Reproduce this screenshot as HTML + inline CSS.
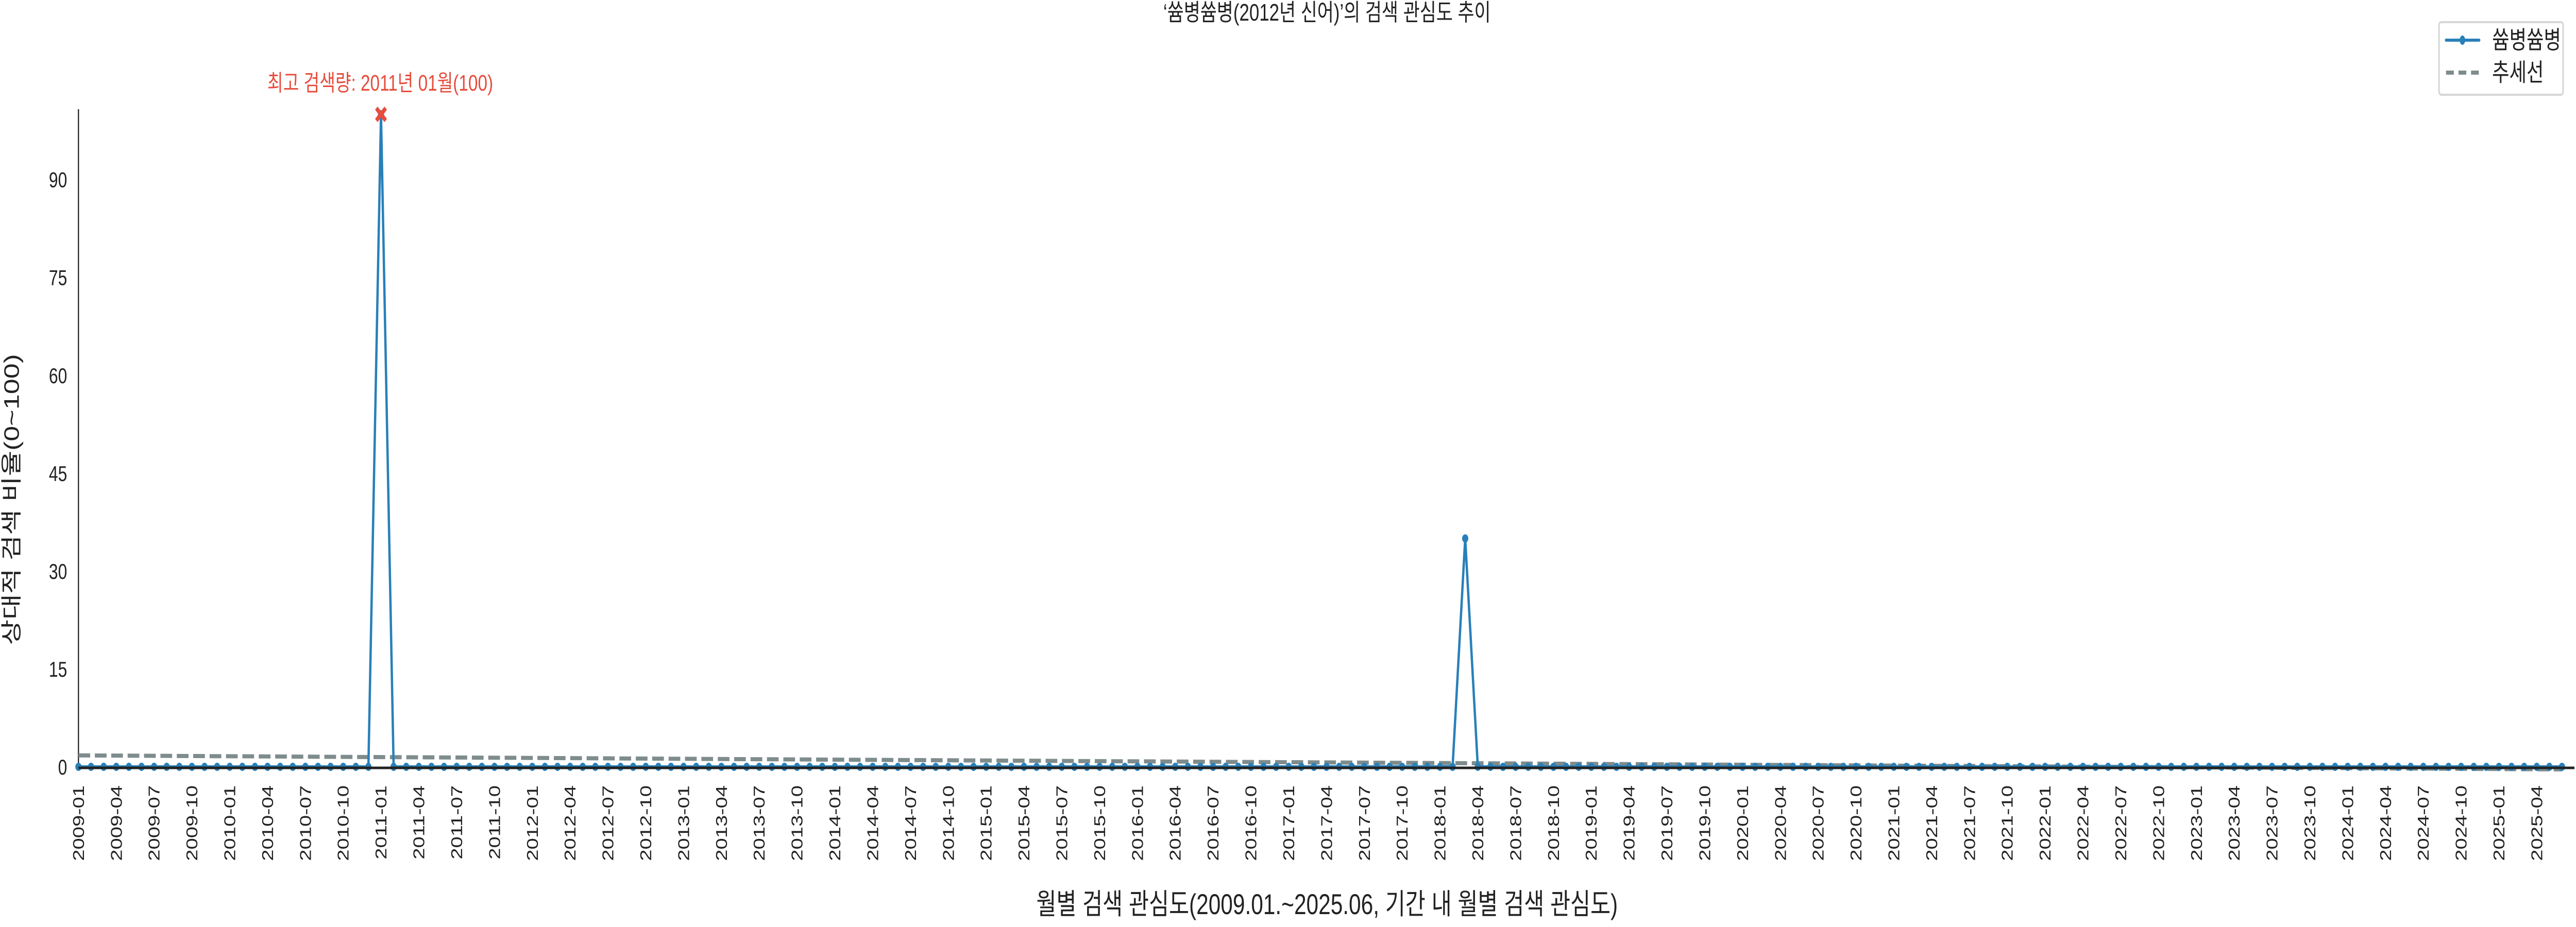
<!DOCTYPE html>
<html><head><meta charset="utf-8">
<style>
html,body{margin:0;padding:0;background:#fff;width:100%;height:100%;overflow:hidden;}
svg{display:block;width:100vw;height:100vh;font-family:"Liberation Sans","Noto Sans CJK KR",sans-serif;}
</style></head>
<body>
<svg id="chart" viewBox="0 0 6600 1800" preserveAspectRatio="none" xmlns="http://www.w3.org/2000/svg">
<text x="3400" y="40" font-size="46" text-anchor="middle" fill="#222">‘쓤병쓤병(2012년 신어)’의 검색 관심도 추이</text>
<g id="plot"></g>
<text transform="translate(48,970) rotate(-90)" font-size="54" text-anchor="middle" fill="#222">상대적 검색 비율(0~100)</text>
<text x="3400" y="1775" font-size="56" text-anchor="middle" fill="#222">월별 검색 관심도(2009.01.~2025.06, 기간 내 월별 검색 관심도)</text>
<g>
<rect x="6249" y="43" width="318" height="141" rx="6" fill="#fff" stroke="#d6d6d6" stroke-width="4"/>
<line x1="6267" y1="78" x2="6352" y2="78" stroke="#2980b9" stroke-width="6" stroke-linecap="round"/>
<ellipse cx="6309" cy="78" rx="7" ry="9" fill="#2980b9"/>
<text x="6385" y="94" font-size="48" fill="#222">쓤병쓤병</text>
<line x1="6267" y1="141" x2="6352" y2="141" stroke="#7f8c8d" stroke-width="8" stroke-dasharray="20,12"/>
<text x="6385" y="157" font-size="48" fill="#222">추세선</text>
</g>
</svg>
<script>
const startYear = 2009;
const monthCount = 198;
const spikeIndices = [24, 110];
const spikeValues = [100, 35];
const yTicks = [0, 15, 30, 45, 60, 75, 90];
const peakLabel = "최고 검색량: 2011년 01월(100)";

const values = [];
for (let i = 0; i < monthCount; i++) values.push(0);
spikeIndices.forEach((idx, k) => { values[idx] = spikeValues[k]; });
const labels = [];
for (let i = 0; i < monthCount; i++) {
  const y = startYear + Math.floor(i / 12), m = i % 12 + 1;
  labels.push(y + "-" + String(m).padStart(2, "0"));
}

const X0 = 201, DX = 32.3, Y0 = 1489, DY = 12.67;
const xs = i => X0 + i * DX;
const ys = v => Y0 - v * DY;
const NS = "http://www.w3.org/2000/svg";
const plot = document.getElementById("plot");
function mk(tag, attrs) {
  const e = document.createElementNS(NS, tag);
  for (const k in attrs) e.setAttribute(k, attrs[k]);
  plot.appendChild(e);
  return e;
}

const yAxis = mk("line", {x1: X0, y1: 212, x2: X0, y2: Y0, stroke: "#222", "stroke-width": 3});


yTicks.forEach(t => {
  const tx = mk("text", {x: 172, y: ys(t) + 15, "font-size": 42, "text-anchor": "end", fill: "#222"});
  tx.textContent = t;
  
  
});

for (let i = 0; i < monthCount; i += 3) {
  const tx = mk("text", {transform: `translate(${xs(i) + 14},1525) rotate(-90)`, "font-size": 40, "text-anchor": "end", fill: "#222"});
  tx.textContent = labels[i];
  
  
}

let n = monthCount, sx = 0, sy = 0, sxy = 0, sxx = 0;
values.forEach((v, i) => { sx += i; sy += v; sxy += i * v; sxx += i * i; });
const slope = (n * sxy - sx * sy) / (n * sxx - sx * sx);
const icpt = (sy - slope * sx) / n;
const trend = mk("line", {x1: xs(0), y1: ys(icpt), x2: xs(n - 1), y2: ys(icpt + slope * (n - 1)), stroke: "#7f8c8d", "stroke-width": 8, "stroke-dasharray": "30,12"});



const pts = values.map((v, i) => xs(i) + "," + ys(v)).join(" ");
const line = mk("polyline", {points: pts, fill: "none", stroke: "#2980b9", "stroke-width": 6, "stroke-linejoin": "round"});


values.forEach((v, i) => {
  const c = mk("circle", {cx: xs(i), cy: ys(v), r: 8, fill: "#2980b9"});
  
  
});

const xAxis = mk("line", {x1: X0, y1: Y0 + 2, x2: 6596, y2: Y0 + 2, stroke: "#222", "stroke-width": 5});



let pi = 0;
values.forEach((v, i) => { if (v > values[pi]) pi = i; });
const px = xs(pi), py = ys(values[pi]);
const m = mk("path", {d: `M${px-12},${py-12}L${px+12},${py+12}M${px+12},${py-12}L${px-12},${py+12}`, stroke: "#e74c3c", "stroke-width": 9});


const ann = mk("text", {x: px - 2, y: 176, "font-size": 44, "text-anchor": "middle", fill: "#e74c3c"});
ann.textContent = peakLabel;


</script>
</body></html>
